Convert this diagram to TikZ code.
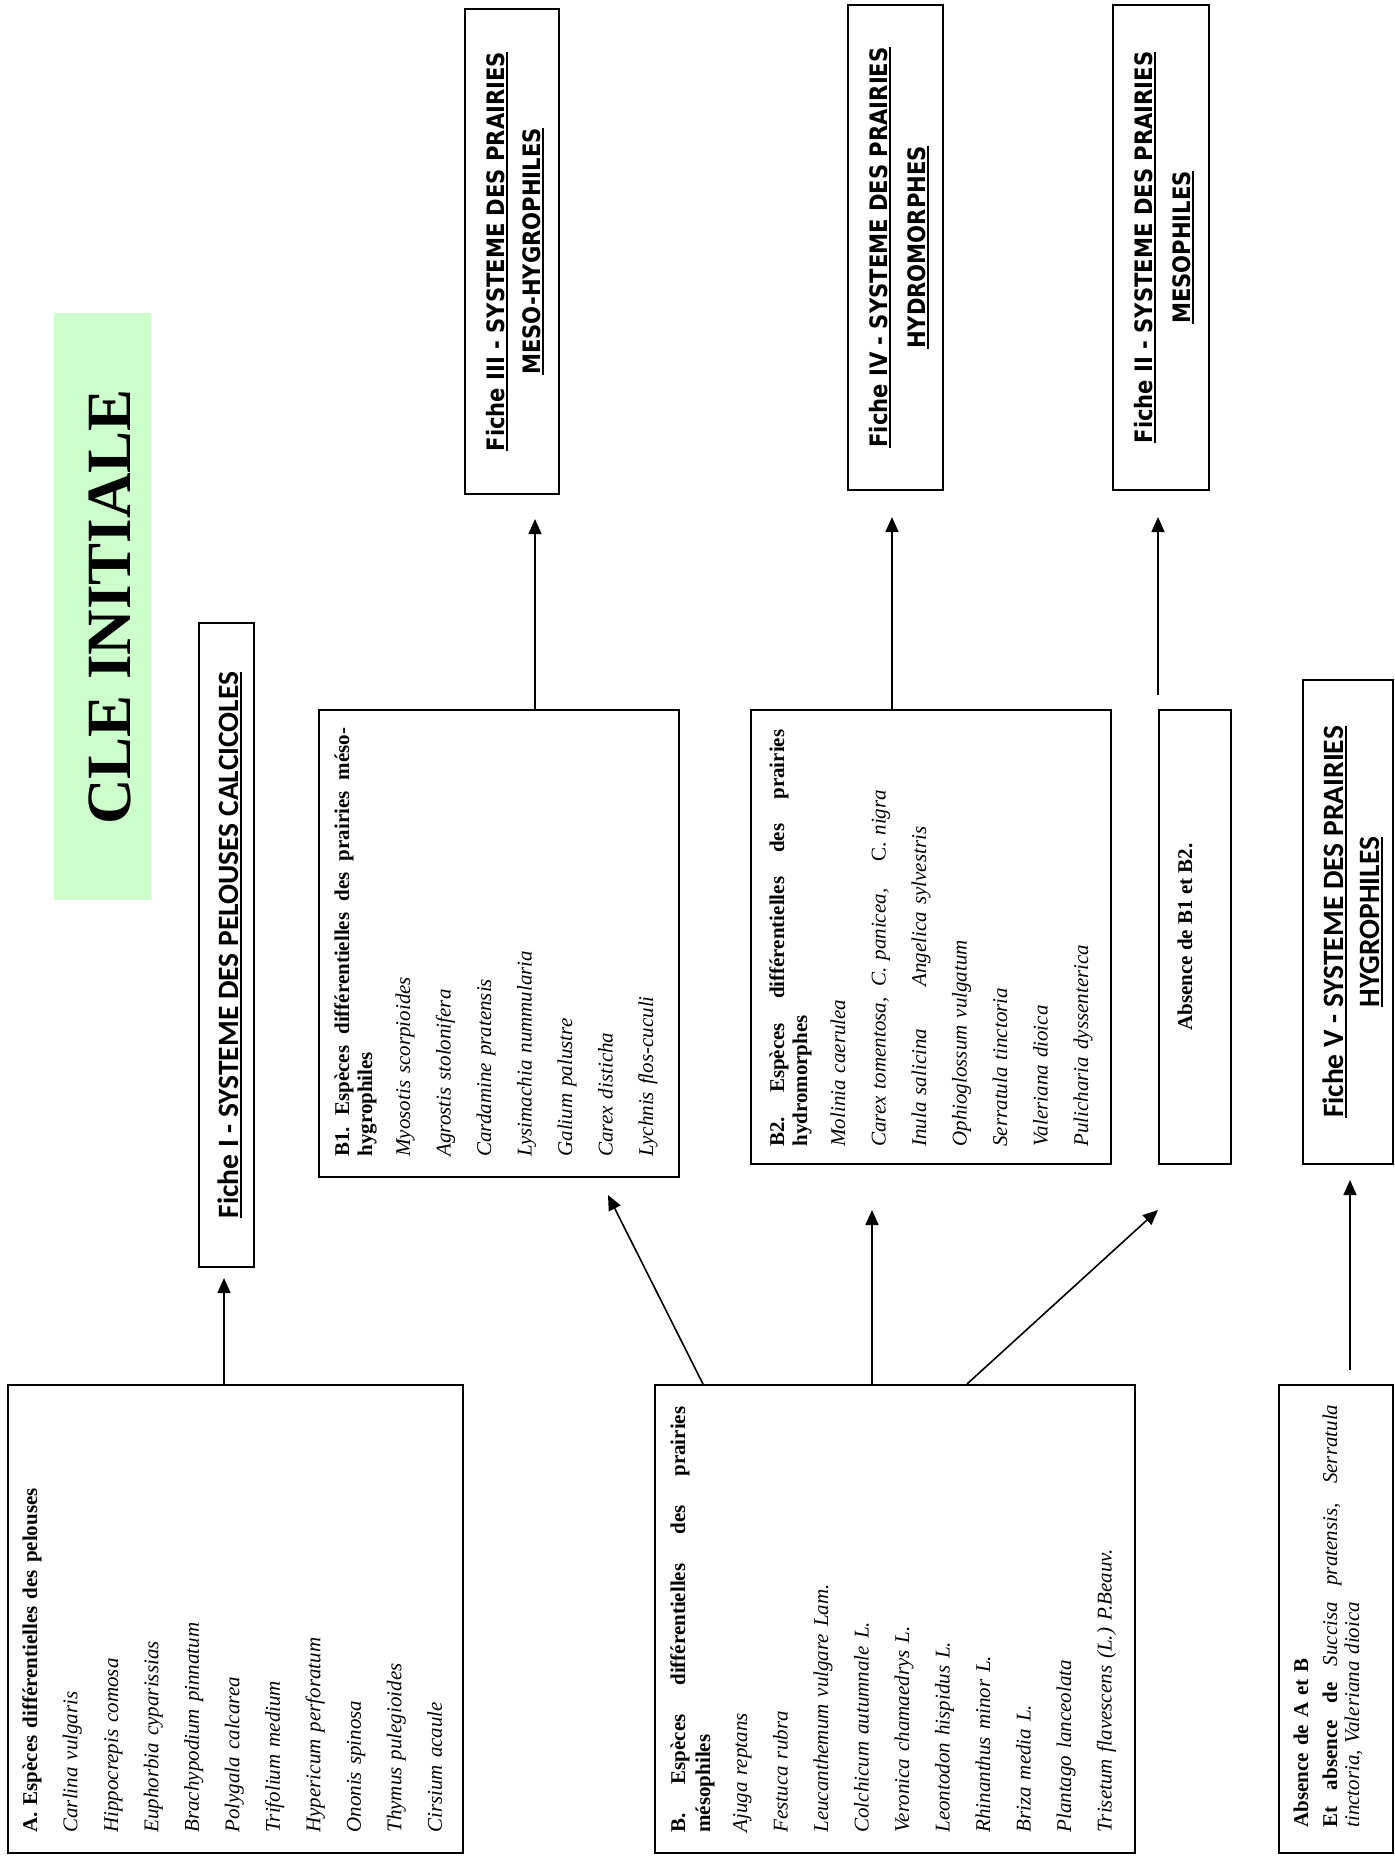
\documentclass[tikz,border=0pt]{standalone}
\usepackage{fontspec}
\setmainfont{Liberation Serif}
\newfontfamily\calfont{Carlito}
\newfontfamily\dvfont{DejaVu Sans}[FakeStretch=0.88]
\usetikzlibrary{arrows.meta,fit}
\definecolor{titlegreen}{RGB}{204,255,204}
\newsavebox\barbox
% underlined heading with a heavier rule than \underline
\newcommand{\barred}[1]{\sbox\barbox{#1}\rlap{\rule[-2pt]{\wd\barbox}{1pt}}\usebox\barbox}
% fully justified line: every interword space stretches equally
\newcommand{\spread}[2]{{\spaceskip=0.25em plus 3em\xspaceskip=0.25em plus 3em\makebox[#1][s]{#2}}}

\begin{document}
\begin{tikzpicture}[x=0.5pt,y=-0.5pt,
  box/.style={draw, line width=1pt, inner sep=0pt},
  arr/.style={-{Triangle[length=7.5pt,width=6.5pt]}, line width=0.8pt},
  rot/.style={rotate=90, inner sep=0pt},
  list/.style={rot, anchor=base west, text width=230pt, align=left,
               font=\fontsize{10.5pt}{20.25pt}\selectfont},
  fiche/.style={rot, anchor=base, font=\dvfont\bfseries\fontsize{12pt}{14pt}\selectfont},
  fichec/.style={rot, anchor=base, font=\calfont\bfseries\fontsize{14.75pt}{17pt}\selectfont}]
\useasboundingbox (0,0) rectangle (1395,1865);

% title band
\node[fill=titlegreen, inner sep=0pt, fit={(54,313) (151,900)}] (band) {};
\node[rot, anchor=center, font=\bfseries\fontsize{31.5pt}{36pt}\selectfont] (title) at (110,607) {CLE INITIALE};

% result sheets
\node[box, fit={(199,623) (254,1267)}] (fI) {};
\node[fichec] (tI) at (238,945) {\barred{Fiche I - SYSTEME DES PELOUSES CALCICOLES}};

\node[box, fit={(465,9) (559,494)}] (fIII) {};
\node[fiche] (tIIIa) at (504,251.5) {\barred{Fiche III - SYSTEME DES PRAIRIES}};
\node[fiche] (tIIIb) at (540,251.5) {\barred{MESO-HYGROPHILES}};

\node[box, fit={(848,5) (943,490)}] (fIV) {};
\node[fiche] (tIVa) at (887,247.5) {\barred{Fiche IV - SYSTEME DES PRAIRIES}};
\node[fiche] (tIVb) at (925,247.5) {\barred{HYDROMORPHES}};

\node[box, fit={(1113,5) (1209,490)}] (fII) {};
\node[fiche] (tIIa) at (1152,247.5) {\barred{Fiche II - SYSTEME DES PRAIRIES}};
\node[fiche] (tIIb) at (1190,247.5) {\barred{MESOPHILES}};

\node[box, fit={(1303,680) (1393,1164)}] (fV) {};
\node[fichec] (tVa) at (1343,922) {\barred{Fiche V - SYSTEME DES PRAIRIES}};
\node[fichec] (tVb) at (1379,922) {\barred{HYGROPHILES}};

% criteria boxes
\node[box, fit={(8,1385) (463,1853)}] (A) {};
\node[list] (tA) at (37,1833) {%
  \textbf{A. Espèces différentielles des pelouses}\\
  \textit{Carlina vulgaris}\\
  \textit{Hippocrepis comosa}\\
  \textit{Euphorbia cyparissias}\\
  \textit{Brachypodium pinnatum}\\
  \textit{Polygala calcarea}\\
  \textit{Trifolium medium}\\
  \textit{Hypericum perforatum}\\
  \textit{Ononis spinosa}\\
  \textit{Thymus pulegioides}\\
  \textit{Cirsium acaule}};

\node[box, fit={(655,1385) (1135,1853)}] (B) {};
\node[list] (tB) at (685,1833) {%
  \spread{213pt}{\textbf{B. Espèces différentielles des prairies}}\\[-7.75pt]
  \textbf{mésophiles}\\[-1.75pt]
  \textit{Ajuga reptans}\\
  \textit{Festuca rubra}\\
  \textit{Leucanthemum vulgare Lam.}\\
  \textit{Colchicum autumnale L.}\\
  \textit{Veronica chamaedrys L.}\\
  \textit{Leontodon hispidus L.}\\
  \textit{Rhinanthus minor L.}\\
  \textit{Briza media L.}\\
  \textit{Plantago lanceolata}\\
  \textit{Trisetum flavescens (L.) P.Beauv.}};

\node[box, fit={(319,710) (679,1177)}] (B1) {};
\node[list] (tB1) at (349,1157) {%
  \spread{214.5pt}{\textbf{B1. Espèces différentielles des prairies méso-}}\\[-8.75pt]
  \textbf{hygrophiles}\\[-1.25pt]
  \textit{Myosotis scorpioides}\\
  \textit{Agrostis stolonifera}\\
  \textit{Cardamine pratensis}\\
  \textit{Lysimachia nummularia}\\
  \textit{Galium palustre}\\
  \textit{Carex disticha}\\
  \textit{Lychnis flos-cuculi}};

\node[box, fit={(751,710) (1111,1164)}] (B2) {};
\node[list] (tB2) at (784,1147) {%
  \spread{208.5pt}{\textbf{B2. Espèces différentielles des prairies}}\\[-8.75pt]
  \textbf{hydromorphes}\\[-1.25pt]
  \textit{Molinia caerulea}\\
  \makebox[80pt][l]{\textit{Carex tomentosa,}}\makebox[62.5pt][l]{\textit{C. panicea,}}C. \textit{nigra}\\
  \makebox[80pt][l]{\textit{Inula salicina}}\textit{Angelica sylvestris}\\
  \textit{Ophioglossum vulgatum}\\
  \textit{Serratula tinctoria}\\
  \textit{Valeriana dioica}\\
  \textit{Pulicharia dyssenterica}};

\node[box, fit={(1159,710) (1231,1164)}] (B12) {};
\node[rot, anchor=base, font=\bfseries\fontsize{10.5pt}{12pt}\selectfont] (tB12) at (1192,937) {Absence de B1 et B2.};

\node[box, fit={(1279,1385) (1393,1853)}] (AB) {};
\node[list] (tAB) at (1308,1828) {%
  \textbf{Absence de A et B}\\[-5.75pt]
  \spread{211.5pt}{\textbf{Et absence de} \textit{Succisa pratensis, Serratula}}\\[-9.25pt]
  \textit{tinctoria, Valeriana dioica}};

% arrow ends
\coordinate (tipI) at (224,1278);
\coordinate (tipIII) at (535,519);
\coordinate (tipIV) at (892,517);
\coordinate (srcII) at (1158,695);
\coordinate (tipII) at (1158,517);
\coordinate (bL) at (703,0);
\coordinate (bR) at (967,0);
\coordinate (tipB1) at (608,1195);
\coordinate (tipB2) at (872,1210);
\coordinate (tipB12) at (1158,1210);
\coordinate (srcV) at (1350,1370);
\coordinate (tipV) at (1350,1180);

% connectors
\draw[arr] (tipI |- A.north) -- (tipI);
\draw[arr] (tipIII |- B1.north) -- (tipIII);
\draw[arr] (tipIV |- B2.north) -- (tipIV);
\draw[arr] (srcII) -- (tipII);
\draw[arr] (bL |- B.north) -- (tipB1);
\draw[arr] (tipB2 |- B.north) -- (tipB2);
\draw[arr] (bR |- B.north) -- (tipB12);
\draw[arr] (srcV) -- (tipV);
\end{tikzpicture}
\end{document}
